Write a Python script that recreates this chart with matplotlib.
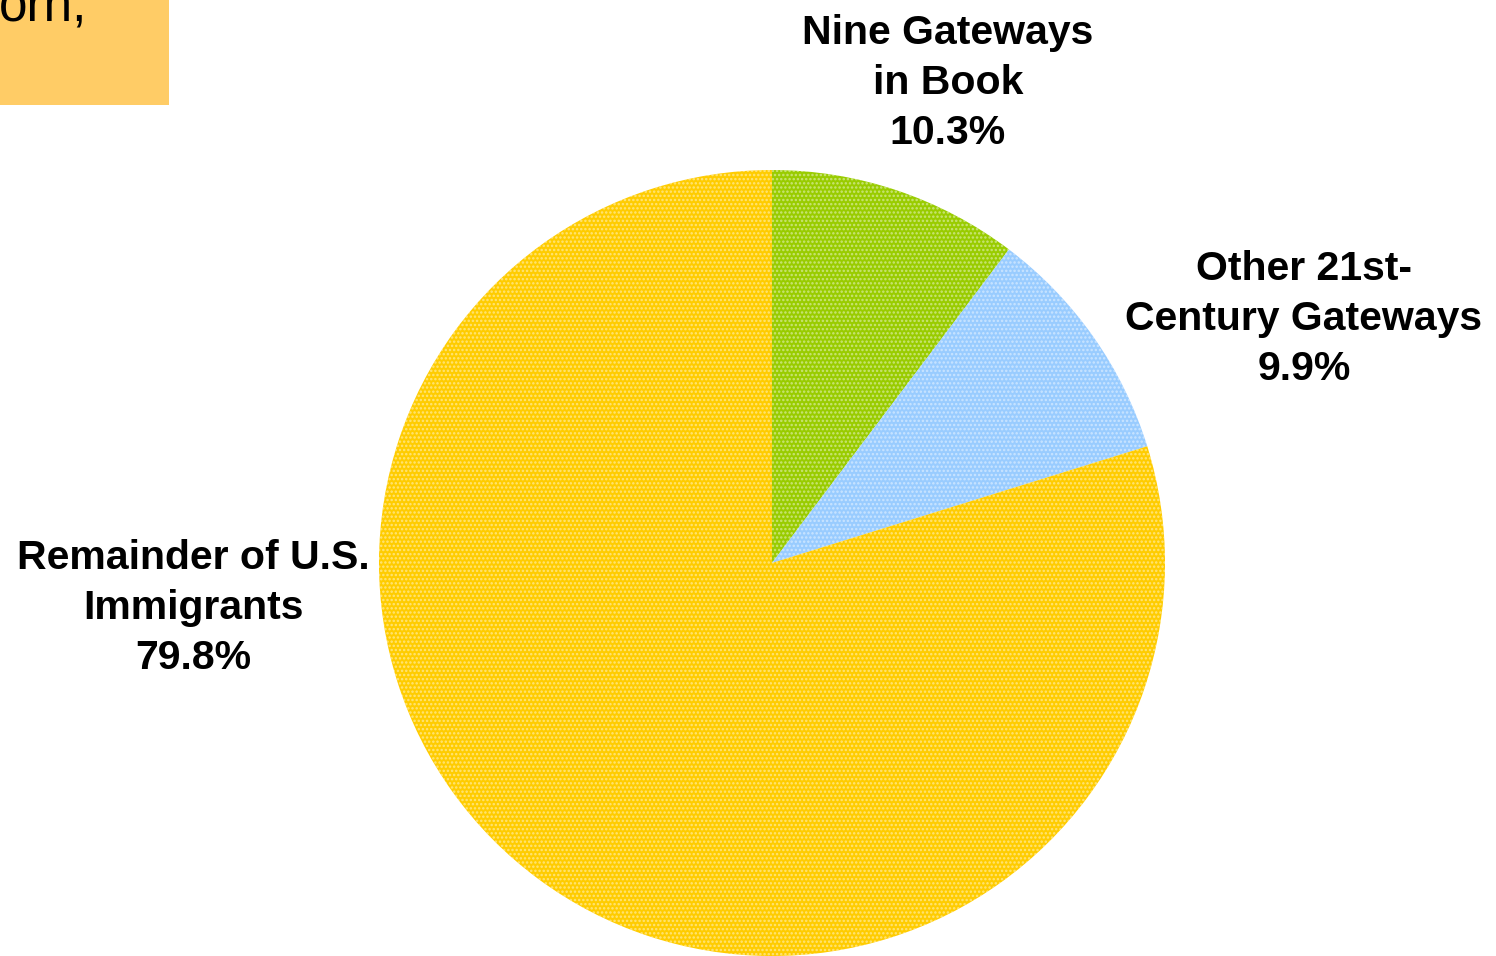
import matplotlib.pyplot as plt
from matplotlib.patches import Rectangle

# shares of immigrants
labels = ["Nine Gateways\nin Book", "Other 21st-\nCentury Gateways", "Remainder of U.S.\nImmigrants"]
shares = [10.3, 9.9, 79.8]
colors = ["#99cc00", "#99ccff", "#ffcc00"]

# label anchor points in pixels (x, y from top)
label_pos = [(948, 83), (1304, 319), (193, 608)]

plt.rcParams['font.family'] = ['Liberation Sans', 'DejaVu Sans']
plt.rcParams['hatch.linewidth'] = 1.2

W, H = 1496, 956
fig = plt.figure(figsize=(W / 100, H / 100), dpi=100)
ax = fig.add_axes([0, 0, 1, 1])

wedges, _ = ax.pie(shares, colors=colors, startangle=90, counterclock=False,
                   center=(772, H - 563), radius=393, frame=True)
for w in wedges:
    w.set_hatch('....')
    w.set_edgecolor((1, 1, 1, 0.45))
    w.set_linewidth(0)
ax.set_xlim(0, W)
ax.set_ylim(0, H)
ax.set_aspect('equal')
ax.axis('off')

for lab, s, (x, y) in zip(labels, shares, label_pos):
    ax.text(x, H - y, f"{lab}\n{s}%", ha='center', va='center', fontsize=29.5,
            fontweight='bold', linespacing=1.4, color='black')

# cropped note box in the top-left corner
ax.add_patch(Rectangle((0, H - 105), 169, 105, facecolor="#ffcc66", edgecolor='none'))
ax.text(-1, H - 21, "orn,", ha='left', va='baseline', fontsize=37, color='black')

fig.savefig("out.png", dpi=100)
